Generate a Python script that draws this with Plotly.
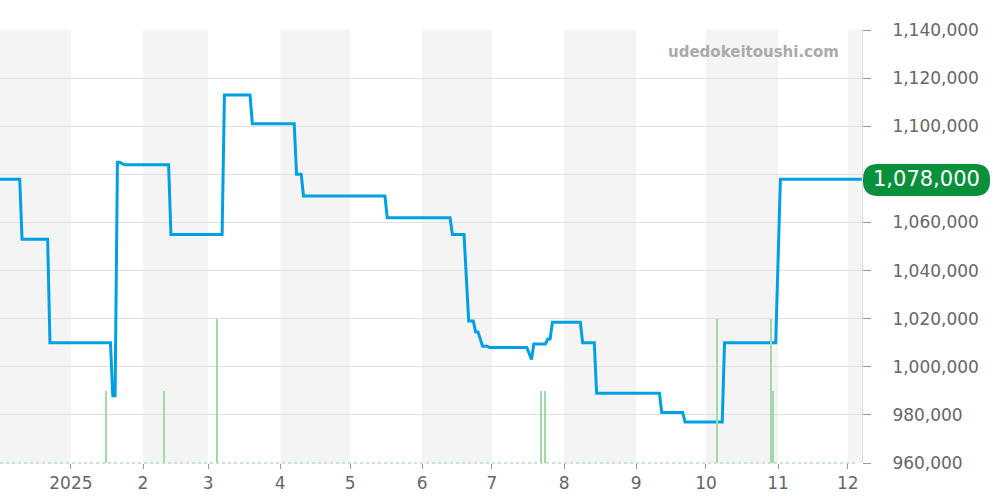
import plotly.graph_objects as go

# ---- data ----
price_dates = [
    "2024-11-28", "2024-12-10", "2024-12-11", "2024-12-22", "2024-12-23",
    "2025-01-18", "2025-01-19", "2025-01-20", "2025-01-21", "2025-01-22",
    "2025-01-24", "2025-02-12", "2025-02-13", "2025-03-07", "2025-03-08",
    "2025-03-19", "2025-03-20", "2025-04-07", "2025-04-08", "2025-04-10",
    "2025-04-11", "2025-05-16", "2025-05-17", "2025-06-13", "2025-06-14",
    "2025-06-19", "2025-06-21", "2025-06-23", "2025-06-24", "2025-06-25",
    "2025-06-27", "2025-06-29", "2025-06-30", "2025-07-16", "2025-07-18",
    "2025-07-19", "2025-07-24", "2025-07-25", "2025-07-26", "2025-07-27",
    "2025-08-08", "2025-08-09", "2025-08-14", "2025-08-15", "2025-09-11",
    "2025-09-12", "2025-09-21", "2025-09-22", "2025-10-08", "2025-10-09",
    "2025-10-31", "2025-11-02", "2025-12-07",
]
price_values = [
    1078000, 1078000, 1053000, 1053000, 1010000,
    1010000, 988000, 988000, 1085000, 1085000,
    1084000, 1084000, 1055000, 1055000, 1113000,
    1113000, 1101000, 1101000, 1080000, 1080000,
    1071000, 1071000, 1062000, 1062000, 1055000,
    1055000, 1019000, 1019000, 1014500, 1014500,
    1008500, 1008500, 1008000, 1008000, 1003000,
    1009500, 1009500, 1011500, 1011500, 1018500,
    1018500, 1010000, 1010000, 989000, 989000,
    981000, 981000, 977000, 977000, 1010000,
    1010000, 1078000, 1078000,
]

vol_dates = ["2025-01-16", "2025-02-10", "2025-03-05", "2025-07-22",
             "2025-07-24", "2025-10-06", "2025-10-29", "2025-10-30"]
vol_values = [1, 1, 2, 1, 1, 2, 2, 1]

month_ticks = ["2025-01-01", "2025-02-01", "2025-03-01", "2025-04-01",
               "2025-05-01", "2025-06-01", "2025-07-01", "2025-08-01",
               "2025-09-01", "2025-10-01", "2025-11-01", "2025-12-01"]
month_labels = ["2025", "2", "3", "4", "5", "6", "7", "8", "9", "10", "11", "12"]

price_ticks = [960000, 980000, 1000000, 1020000, 1040000, 1060000,
               1080000, 1100000, 1120000, 1140000]

shaded_months = [("2024-12-01", "2025-01-01"), ("2025-02-01", "2025-03-01"),
                 ("2025-04-01", "2025-05-01"), ("2025-06-01", "2025-07-01"),
                 ("2025-08-01", "2025-09-01"), ("2025-10-01", "2025-11-01"),
                 ("2025-12-01", "2026-01-01")]

current_price = 1078000
watermark = "udedokeitoushi.com"

# ---- figure ----
W, H = 1000, 500
ML, MR, MT, MB = 0, 138, 30, 37
PW, PH = W - ML - MR, H - MT - MB
FONT = "DejaVu Sans"

fig = go.Figure()

fig.add_trace(go.Bar(
    x=vol_dates, y=vol_values, yaxis="y2",
    width=0.55 * 86400000,
    marker=dict(color="#a3d9a8", line=dict(width=0)),
    hoverinfo="skip", showlegend=False,
))

fig.add_trace(go.Scatter(
    x=price_dates, y=price_values, mode="lines",
    line=dict(color="#00a0e6", width=3),
    showlegend=False,
))

shapes = []
for a, b in shaded_months:
    shapes.append(dict(type="rect", xref="x", yref="paper", x0=a, x1=b,
                       y0=0, y1=1, fillcolor="#f4f4f4", line=dict(width=0),
                       layer="below"))
# dotted baseline of the volume area
shapes.append(dict(type="line", xref="paper", yref="paper", x0=0, x1=856 / PW,
                   y0=0, y1=0, line=dict(color="#b3e0b6", width=1.5, dash="dot"),
                   layer="above"))


def px2paper_x(px):
    return (px - ML) / PW


def px2paper_y(py):
    return (MT + PH - py) / PH


# rounded green pill for the current price
x0, x1 = px2paper_x(863), px2paper_x(990)
y_top, y_bot = px2paper_y(164), px2paper_y(196)
rx, ry = 15 / PW, 15 / PH
path = (f"M {x0+rx},{y_top} L {x1-rx},{y_top} Q {x1},{y_top} {x1},{y_top-ry} "
        f"L {x1},{y_bot+ry} Q {x1},{y_bot} {x1-rx},{y_bot} "
        f"L {x0+rx},{y_bot} Q {x0},{y_bot} {x0},{y_bot+ry} "
        f"L {x0},{y_top-ry} Q {x0},{y_top} {x0+rx},{y_top} Z")
shapes.append(dict(type="path", xref="paper", yref="paper", path=path,
                   fillcolor="#08913a", line=dict(width=0), layer="above"))

annotations = [
    dict(xref="paper", yref="y", x=px2paper_x(926.5), y=current_price,
         text=f"{current_price:,}", showarrow=False, xanchor="center", yanchor="middle",
         font=dict(family=FONT, size=21, color="white")),
    dict(xref="paper", yref="paper", x=px2paper_x(841), y=px2paper_y(52),
         text=watermark, showarrow=False, xanchor="right", yanchor="middle",
         font=dict(family=FONT, size=15, color="#aaaaaa", weight="bold")),
]

# the label hidden behind the current-price pill is left blank
price_tick_text = ["" if abs(v - current_price) < 5000 else f"{v:,}" for v in price_ticks]

fig.update_layout(
    width=W, height=H,
    margin=dict(l=ML, r=MR, t=MT, b=MB),
    plot_bgcolor="white", paper_bgcolor="white",
    font=dict(family=FONT, size=17, color="#666666"),
    bargap=0,
    shapes=shapes,
    annotations=annotations,
    xaxis=dict(
        type="date",
        range=["2024-12-01 12:30", "2025-12-07 02:00"],
        tickvals=month_ticks, ticktext=month_labels,
        ticks="outside", ticklen=5, tickcolor="#999999",
        showgrid=False, zeroline=False, showline=False,
        tickfont=dict(family=FONT, size=17, color="#666666"),
    ),
    yaxis=dict(
        side="right",
        range=[960000, 1140000],
        tickvals=price_ticks, ticktext=price_tick_text,
        ticks="outside", ticklen=8, tickcolor="#999999",
        ticklabelstandoff=18,
        showgrid=True, gridcolor="#e0e0e0", gridwidth=1,
        showline=True, linecolor="#dddddd", linewidth=1,
        zeroline=False,
        tickfont=dict(family=FONT, size=17, color="#666666"),
    ),
    yaxis2=dict(overlaying="y", range=[0, 6], visible=False, fixedrange=True),
)

fig.write_html("out.html",
               config={"displayModeBar": False},
               post_script="document.body.style.margin='0';document.body.style.padding='0';")
